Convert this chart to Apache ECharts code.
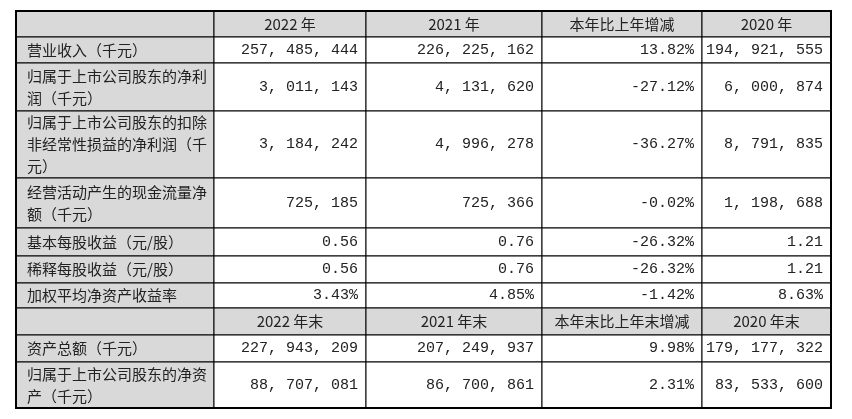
<!DOCTYPE html>
<html>
<head>
<meta charset="utf-8">
<script src="https://cdn.jsdelivr.net/npm/echarts@6/dist/echarts.min.js"></script>
<style>html,body{margin:0;padding:0;background:#fff}#main{width:852px;height:419px}</style>
</head>
<body>
<div id="main"></div>
<script>
// 表格数据
var header1 = ['', '2022 年', '2021 年', '本年比上年增减', '2020 年'];
var header2 = ['', '2022 年末', '2021 年末', '本年末比上年末增减', '2020 年末'];
var labels1 = ['营业收入（千元）', '归属于上市公司股东的净利\n润（千元）', '归属于上市公司股东的扣除\n非经常性损益的净利润（千\n元）', '经营活动产生的现金流量净\n额（千元）', '基本每股收益（元/股）', '稀释每股收益（元/股）', '加权平均净资产收益率'];
var v2022 = ['257,485,444', '3,011,143', '3,184,242', '725,185', '0.56', '0.56', '3.43%'];
var v2021 = ['226,225,162', '4,131,620', '4,996,278', '725,366', '0.76', '0.76', '4.85%'];
var vChange = ['13.82%', '-27.12%', '-36.27%', '-0.02%', '-26.32%', '-26.32%', '-1.42%'];
var v2020 = ['194,921,555', '6,000,874', '8,791,835', '1,198,688', '1.21', '1.21', '8.63%'];
var labels2 = ['资产总额（千元）', '归属于上市公司股东的净资\n产（千元）'];
var e2022 = ['227,943,209', '88,707,081'];
var e2021 = ['207,249,937', '86,700,861'];
var eChange = ['9.98%', '2.31%'];
var e2020 = ['179,177,322', '83,533,600'];

var colX = [16, 214, 366, 542, 702, 831];
var rowY = [11, 37, 63, 111, 178, 228, 256, 283, 308, 335, 362, 408];

var rows = [{cells: header1, head: true}];
labels1.forEach(function (l, i) { rows.push({cells: [l, v2022[i], v2021[i], vChange[i], v2020[i]]}); });
rows.push({cells: header2, head: true});
labels2.forEach(function (l, i) { rows.push({cells: [l, e2022[i], e2021[i], eChange[i], e2020[i]]}); });

var cjk = '"Noto Sans CJK SC", sans-serif';
var num = '"Liberation Mono", "DejaVu Sans Mono", monospace';
var els = [];
rows.forEach(function (r, ri) {
    var y0 = rowY[ri], y1 = rowY[ri + 1];
    r.cells.forEach(function (c, ci) {
        var x0 = colX[ci], x1 = colX[ci + 1];
        var gray = r.head || ci === 0;
        els.push({type: 'rect', shape: {x: x0, y: y0, width: x1 - x0, height: y1 - y0},
            style: {fill: gray ? '#d9d9d9' : '#fff', stroke: '#000', lineWidth: 1}});
        var align = r.head ? 'center' : (ci === 0 ? 'left' : 'right');
        var tx = align === 'center' ? (x0 + x1) / 2 : (align === 'left' ? x0 + 11 : x1 - 8);
        var isNum = !r.head && ci > 0;
        var txt = isNum ? c.replace(/,/g, ', ') : c;
        els.push({type: 'text', x: tx, y: (y0 + y1) / 2,
            style: {text: txt, fill: '#222', font: (isNum ? '15px ' + num : '15px ' + cjk),
                align: align, verticalAlign: 'middle', lineHeight: 22}});
    });
});
els.push({type: 'rect', shape: {x: colX[0], y: rowY[0], width: colX[5] - colX[0], height: rowY[11] - rowY[0]},
    style: {fill: 'none', stroke: '#000', lineWidth: 2}});

var myChart = echarts.init(document.getElementById('main'));
myChart.setOption({animation: false, graphic: {elements: els}});
</script>
</body>
</html>
